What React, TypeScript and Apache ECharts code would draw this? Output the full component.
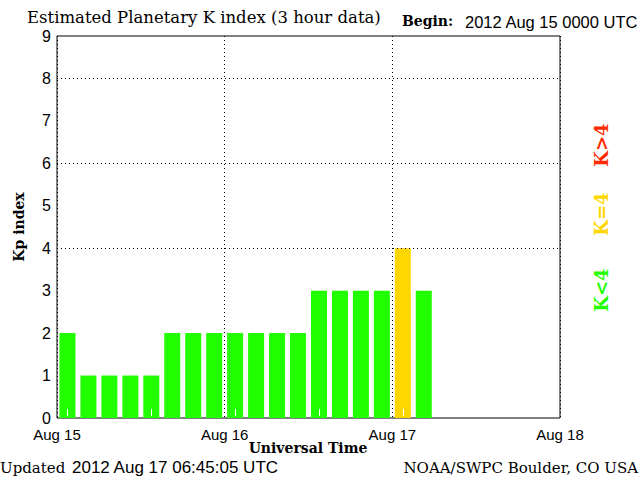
import React, { useEffect, useRef } from "react";
import * as echarts from "echarts";

const kpValues = [2, 1, 1, 1, 1, 2, 2, 2, 2, 2, 2, 2, 3, 3, 3, 3, 4, 3];
const dayLabels = ["Aug 15", "Aug 16", "Aug 17", "Aug 18"];
const slotHours = ["00", "03", "06", "09", "12", "15", "18", "21"];
const gridLevels = [4, 6, 8];
const GREEN = "#22ff00";
const YELLOW = "#ffd700";
const RED = "#ff2a00";

function colorFor(v: number) {
  if (v < 4) return GREEN;
  if (v === 4) return YELLOW;
  return RED;
}

export default function App() {
  const ref = useRef<HTMLDivElement>(null);
  useEffect(() => {
    const chart = echarts.init(ref.current!, null, { renderer: "svg" });
    const serif = "DejaVu Serif";
    const sans = "Liberation Sans";
    const slots: string[] = [];
    dayLabels.slice(0, 3).forEach((d) => slotHours.forEach((h) => slots.push(`${d} ${h}`)));
    chart.setOption({
      animation: false,
      backgroundColor: "#ffffff",
      grid: {
        left: 57,
        top: 36,
        right: 80,
        bottom: 62,
        show: true,
        borderColor: "#000",
        borderWidth: 1,
      },
      xAxis: [
        {
          type: "value",
          min: 0,
          max: 24,
          interval: 8,
          axisLine: { show: false },
          axisTick: { show: false },
          axisLabel: {
            color: "#000",
            fontFamily: sans,
            fontSize: 15,
            margin: 9,
            formatter: (v: number) => dayLabels[Math.round(v / 8)] ?? "",
          },
          splitLine: {
            show: true,
            lineStyle: { color: "#000", type: [1, 3], width: 1 },
          },
        },
        {
          type: "category",
          data: slots,
          position: "bottom",
          offset: -2,
          z: 10,
          axisLine: { show: false },
          axisLabel: { show: false },
          splitLine: { show: false },
          axisTick: {
            show: true,
            inside: true,
            alignWithLabel: true,
            length: 7,
            lineStyle: { color: "#ffffff", width: 1 },
          },
        },
      ],
      yAxis: {
        type: "value",
        min: 0,
        max: 9,
        interval: 1,
        axisLine: { show: false },
        axisTick: { show: false },
        splitLine: { show: false },
        axisLabel: { color: "#000", fontFamily: sans, fontSize: 16, margin: 6 },
        name: "Kp index",
        nameLocation: "middle",
        nameGap: 31,
        nameTextStyle: { fontFamily: serif, fontWeight: "bold", fontSize: 14, color: "#000" },
      },
      series: [
        {
          type: "bar",
          xAxisIndex: 0,
          barWidth: 16,
          data: kpValues.map((v, i) => ({
            value: [i + 0.5, v],
            itemStyle: { color: colorFor(v) },
          })),
          markLine: {
            silent: true,
            symbol: "none",
            label: { show: false },
            lineStyle: { color: "#000", type: [1, 3], width: 1 },
            data: gridLevels.map((y) => ({ yAxis: y })),
          },
        },
      ],
      graphic: [
        {
          type: "text",
          left: 27,
          top: 9,
          style: { text: "Estimated Planetary K index (3 hour data)", font: `16.5px '${serif}'`, fill: "#000" },
        },
        {
          type: "text",
          left: 402,
          top: 14,
          style: { text: "Begin:", font: `bold 14px '${serif}'`, fill: "#000" },
        },
        {
          type: "text",
          left: 465,
          top: 13,
          style: { text: "2012 Aug 15 0000 UTC", font: `16.5px '${sans}'`, fill: "#000" },
        },
        {
          type: "text",
          x: 308,
          y: 448,
          style: {
            text: "Universal Time",
            font: `bold 14px '${serif}'`,
            fill: "#000",
            align: "center",
            verticalAlign: "middle",
          },
        },
        {
          type: "text",
          left: 0,
          top: 460,
          style: { text: "Updated", font: `15px '${serif}'`, fill: "#000" },
        },
        {
          type: "text",
          left: 72,
          top: 459,
          style: { text: "2012 Aug 17 06:45:05 UTC", font: `17px '${sans}'`, fill: "#000" },
        },
        {
          type: "text",
          right: 2,
          top: 460,
          style: { text: "NOAA/SWPC Boulder, CO USA", font: `15px '${serif}'`, fill: "#000" },
        },
        {
          type: "text",
          x: 601,
          y: 290,
          rotation: Math.PI / 2,
          style: { text: "K<4", font: `bold 18px '${serif}'`, fill: GREEN, align: "center", verticalAlign: "middle" },
        },
        {
          type: "text",
          x: 601,
          y: 214,
          rotation: Math.PI / 2,
          style: { text: "K=4", font: `bold 18px '${serif}'`, fill: YELLOW, align: "center", verticalAlign: "middle" },
        },
        {
          type: "text",
          x: 601,
          y: 145,
          rotation: Math.PI / 2,
          style: { text: "K>4", font: `bold 18px '${serif}'`, fill: RED, align: "center", verticalAlign: "middle" },
        },
      ],
    });
    return () => chart.dispose();
  }, []);
  return (
    <div
      ref={ref}
      style={{ position: "fixed", left: 0, top: 0, width: 640, height: 480 }}
    />
  );
}
